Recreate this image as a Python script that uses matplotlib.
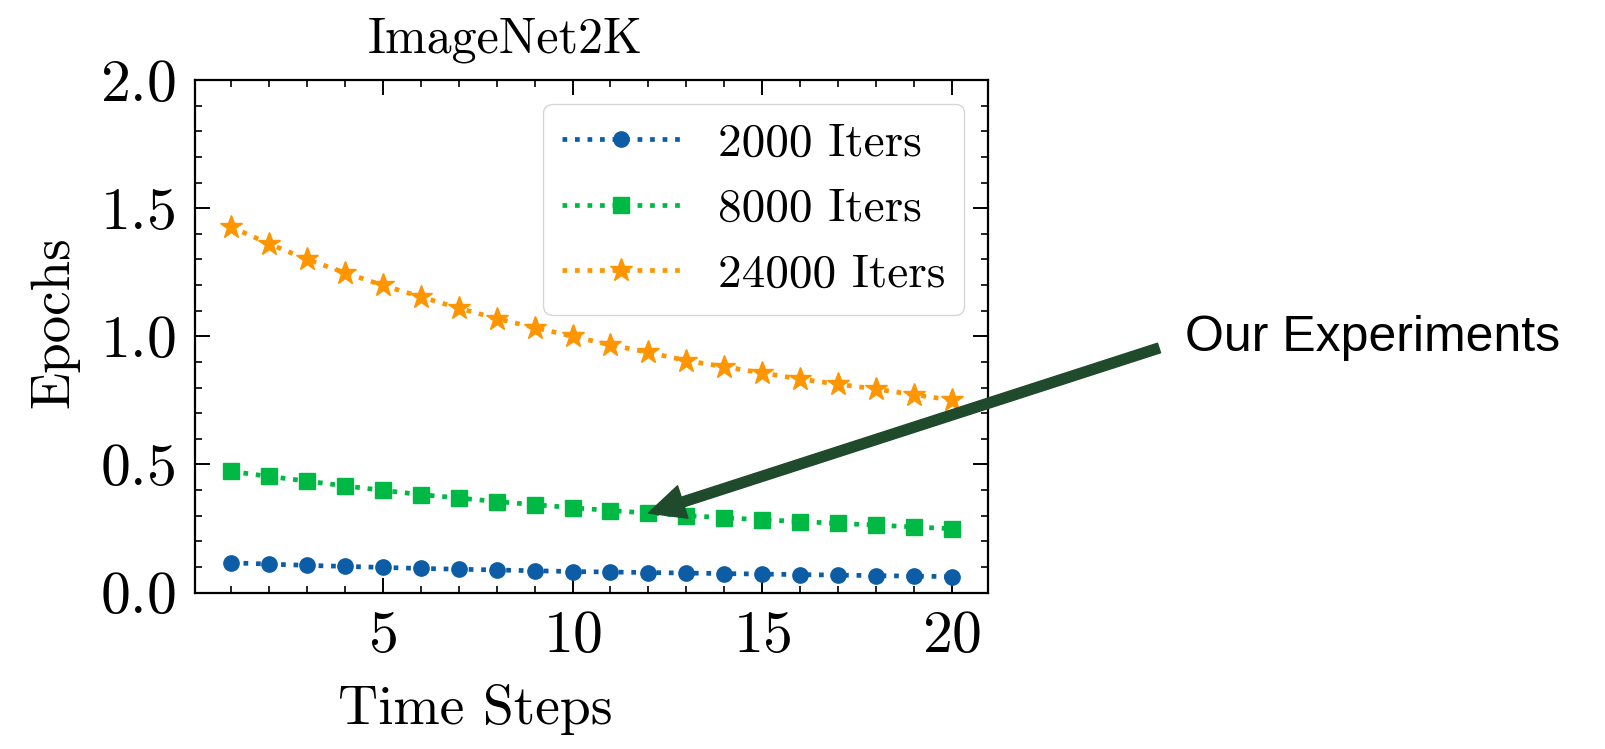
import matplotlib

matplotlib.use("Agg")
import matplotlib.pyplot as plt
import numpy as np

# values
steps = np.arange(1, 21)
iters_2000 = [0.116, 0.111, 0.106, 0.102, 0.098, 0.094, 0.091, 0.088, 0.085, 0.082,
              0.080, 0.078, 0.076, 0.074, 0.072, 0.070, 0.068, 0.066, 0.064, 0.062]
iters_8000 = [0.473, 0.453, 0.435, 0.416, 0.399, 0.382, 0.369, 0.355, 0.343, 0.331,
              0.320, 0.310, 0.300, 0.292, 0.284, 0.277, 0.270, 0.263, 0.256, 0.249]
iters_24000 = [1.427, 1.361, 1.300, 1.248, 1.199, 1.154, 1.110, 1.069, 1.034, 1.000,
               0.966, 0.937, 0.905, 0.881, 0.857, 0.833, 0.813, 0.794, 0.772, 0.751]
labels = ["2000 Iters", "8000 Iters", "24000 Iters"]
colors = ["#0C5DA5", "#00B945", "#FF9500"]
markers = ["o", "s", "*"]
msizes = [11, 11, 17]

plt.rcParams.update({
    "font.family": "cmr10",
    "mathtext.fontset": "cm",
    "axes.formatter.use_mathtext": True,
    "xtick.direction": "in",
    "ytick.direction": "in",
    "xtick.top": True,
    "ytick.right": True,
    "xtick.minor.visible": True,
    "ytick.minor.visible": True,
    "xtick.major.size": 10.5,
    "ytick.major.size": 10.5,
    "xtick.minor.size": 5,
    "ytick.minor.size": 5,
    "xtick.major.width": 1.4,
    "ytick.major.width": 1.4,
    "xtick.minor.width": 1.2,
    "ytick.minor.width": 1.2,
    "axes.linewidth": 1.6,
})

fig = plt.figure(figsize=(16.06, 7.49), dpi=100)
ax = fig.add_axes([0.1214, 0.2089, 0.4938, 0.6843])

for ys, lab, c, m, ms in zip([iters_2000, iters_8000, iters_24000], labels, colors, markers, msizes):
    ax.plot(steps, ys, linestyle=":", marker=m, color=c, markersize=ms, lw=3.4, label=lab)

ax.set_ylim(0, 2.0)
ax.set_xticks([5, 10, 15, 20])
ax.set_yticks([0.0, 0.5, 1.0, 1.5, 2.0])
ax.xaxis.set_minor_locator(matplotlib.ticker.MultipleLocator(1))
ax.yaxis.set_minor_locator(matplotlib.ticker.MultipleLocator(0.1))
ax.tick_params(axis="both", which="major", labelsize=43)
ax.tick_params(axis="x", which="major", pad=13)
ax.tick_params(axis="y", which="major", pad=14)

ax.set_title("ImageNet2K", fontsize=36, x=0.391, pad=20)
ax.set_xlabel("Time Steps", fontsize=40)
ax.xaxis.set_label_coords(0.353, -0.178)
ax.set_ylabel("Epochs", fontsize=39.5)
ax.yaxis.set_label_coords(-0.146, 0.528)

ax.legend(loc="upper right", fontsize=34, handlelength=2.5)

# arrow pointing at the 8000-iteration curve, label placed beside its tail
ax.annotate("", xy=(12, iters_8000[11]), xycoords="data",
            xytext=(1159, 401), textcoords="figure pixels",
            annotation_clip=False,
            arrowprops=dict(arrowstyle="simple,head_length=26,head_width=24.5,tail_width=7.2",
                            mutation_scale=1, color="#1F4A2C", shrinkA=0, shrinkB=0))
fig.text(1185 / 1606, 411 / 749, "Our Experiments", fontsize=36,
         family="Liberation Sans", ha="left", va="center")

fig.savefig("out.png", dpi=100)
